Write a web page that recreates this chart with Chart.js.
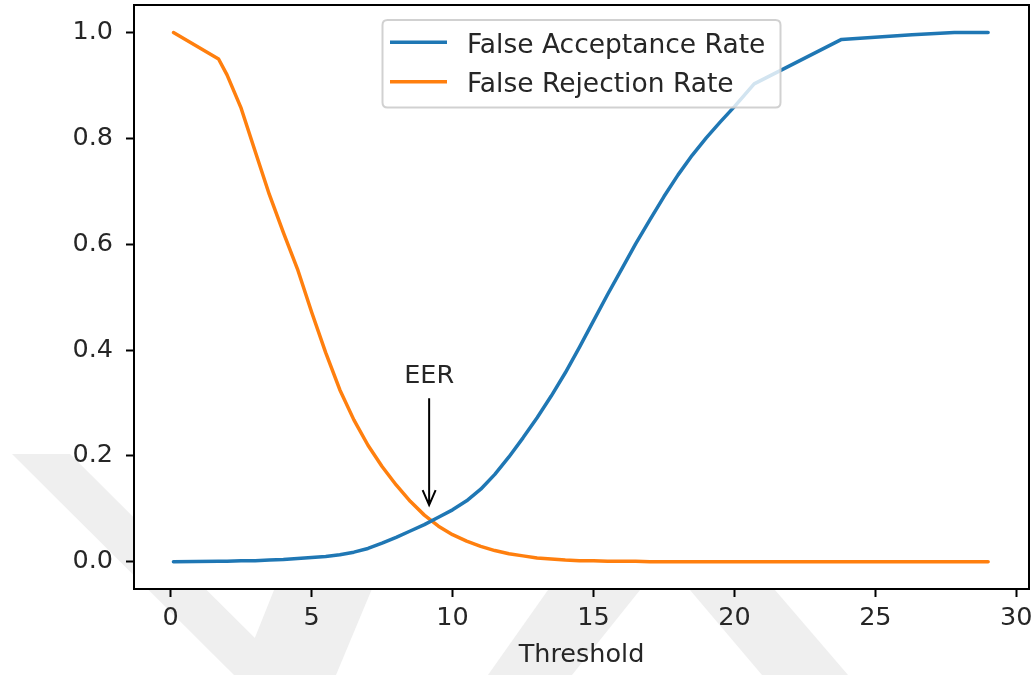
<!DOCTYPE html>
<html>
<head>
<meta charset="utf-8">
<script src="https://cdn.jsdelivr.net/npm/chart.js@4.4.1/dist/chart.umd.min.js"></script>
<style>
html,body{margin:0;padding:0;background:#fff;}
#wrap{width:1034px;height:675px;position:relative;}
</style>
</head>
<body>
<div id="wrap"><canvas id="c" width="1034" height="675"></canvas></div>
<script>
// ---- data ----
const thresholds = [0.1, 1.7, 2.0, 2.5, 3.0, 3.5, 4.0, 4.5, 5.0, 5.5, 6.0, 6.5, 7.0, 7.5, 8.0, 8.5, 9.0, 9.5, 10.0, 10.5, 11.0, 11.5, 12.0, 12.5, 13.0, 13.5, 14.0, 14.5, 15.0, 15.5, 16.0, 16.5, 17.0, 17.5, 18.0, 18.5, 19.0, 19.5, 20.0, 20.7, 23.8, 26.3, 27.8, 29.0];
const farValues = [0.000, 0.001, 0.001, 0.002, 0.002, 0.003, 0.004, 0.006, 0.008, 0.010, 0.013, 0.018, 0.025, 0.035, 0.046, 0.058, 0.070, 0.084, 0.098, 0.115, 0.137, 0.165, 0.198, 0.234, 0.272, 0.313, 0.357, 0.405, 0.455, 0.505, 0.553, 0.601, 0.646, 0.690, 0.731, 0.768, 0.801, 0.831, 0.860, 0.903, 0.987, 0.996, 1.000, 1.000];
const frrValues = [1.000, 0.950, 0.920, 0.857, 0.775, 0.694, 0.622, 0.553, 0.472, 0.395, 0.325, 0.268, 0.220, 0.180, 0.145, 0.114, 0.088, 0.067, 0.051, 0.039, 0.029, 0.021, 0.015, 0.011, 0.007, 0.005, 0.003, 0.002, 0.002, 0.001, 0.001, 0.001, 0.000, 0.000, 0.000, 0.000, 0.000, 0.000, 0.000, 0.000, 0.000, 0.000, 0.000, 0.000];
const seriesLabels = ['False Acceptance Rate', 'False Rejection Rate'];
const seriesColors = ['#1f77b4', '#ff7f0e'];
const xTickValues = [0, 5, 10, 15, 20, 25, 30];
const yTickValues = [0.0, 0.2, 0.4, 0.6, 0.8, 1.0];
const xAxisTitle = 'Threshold';
const eerLabel = 'EER';
const eerX = 9.17;        // arrow x (threshold)
const eerTipY = 0.107;    // arrow head
const eerTailY = 0.309;   // arrow tail
const eerTextY = 0.337;   // text baseline

const FONT = "'DejaVu Sans', 'Liberation Sans', sans-serif";
const TEXT_COLOR = '#262626';

// decorative background watermark (outside the axes only)
const watermarkPolys = [
  [[12,454],[70,454],[292,675],[234,675]],
  [[286,560],[384,560],[336,675],[240,675]],
  [[548,590],[640,590],[572,675],[488,675]],
  [[690,590],[775,590],[848,675],[762,675]]
];

const bgPlugin = {
  id: 'bg',
  beforeDraw(chart) {
    const {ctx, chartArea: a} = chart;
    ctx.save();
    ctx.fillStyle = '#fff';
    ctx.fillRect(0, 0, chart.width, chart.height);
    ctx.fillStyle = '#efefef';
    watermarkPolys.forEach(p => {
      ctx.beginPath();
      p.forEach((pt, i) => i ? ctx.lineTo(pt[0], pt[1]) : ctx.moveTo(pt[0], pt[1]));
      ctx.closePath();
      ctx.fill();
    });
    ctx.fillStyle = '#fff';
    ctx.fillRect(a.left, a.top, a.right - a.left, a.bottom - a.top);
    ctx.restore();
  }
};

const overlayPlugin = {
  id: 'overlay',
  afterDatasetsDraw(chart) {
    const {ctx, chartArea: a, scales: {x, y}} = chart;
    ctx.save();
    // annotation
    const px = x.getPixelForValue(eerX);
    const tipY = y.getPixelForValue(eerTipY);
    const tailY = y.getPixelForValue(eerTailY);
    ctx.strokeStyle = '#000';
    ctx.lineWidth = 2;
    ctx.beginPath();
    ctx.moveTo(px, tailY);
    ctx.lineTo(px, tipY);
    ctx.moveTo(px - 6.5, tipY - 15);
    ctx.lineTo(px, tipY);
    ctx.lineTo(px + 6.5, tipY - 15);
    ctx.stroke();
    ctx.fillStyle = TEXT_COLOR;
    ctx.font = "25.5px " + FONT;
    ctx.textAlign = 'center';
    ctx.textBaseline = 'alphabetic';
    ctx.fillText(eerLabel, px, y.getPixelForValue(eerTextY));

    // frame
    ctx.strokeStyle = '#000';
    ctx.lineWidth = 2;
    ctx.strokeRect(a.left, a.top, a.right - a.left, a.bottom - a.top);

    // legend
    const lx = 382.5, ly = 20, lw = 398, lh = 87.5, r = 5;
    ctx.beginPath();
    ctx.moveTo(lx + r, ly);
    ctx.lineTo(lx + lw - r, ly);
    ctx.quadraticCurveTo(lx + lw, ly, lx + lw, ly + r);
    ctx.lineTo(lx + lw, ly + lh - r);
    ctx.quadraticCurveTo(lx + lw, ly + lh, lx + lw - r, ly + lh);
    ctx.lineTo(lx + r, ly + lh);
    ctx.quadraticCurveTo(lx, ly + lh, lx, ly + lh - r);
    ctx.lineTo(lx, ly + r);
    ctx.quadraticCurveTo(lx, ly, lx + r, ly);
    ctx.closePath();
    ctx.fillStyle = 'rgba(255,255,255,0.8)';
    ctx.fill();
    ctx.strokeStyle = 'rgba(204,204,204,0.9)';
    ctx.lineWidth = 2;
    ctx.stroke();
    chart.data.datasets.forEach((ds, i) => {
      const rowY = 42.3 + i * 39.4;
      ctx.strokeStyle = ds.borderColor;
      ctx.lineWidth = 3.5;
      ctx.beginPath();
      ctx.moveTo(390, rowY);
      ctx.lineTo(447, rowY);
      ctx.stroke();
      ctx.fillStyle = TEXT_COLOR;
      ctx.font = "26.5px " + FONT;
      ctx.textAlign = 'left';
      ctx.textBaseline = 'alphabetic';
      ctx.fillText(ds.label, 467, rowY + 10.4);
    });
    ctx.restore();
  }
};

const mkData = vals => thresholds.map((t, i) => ({x: t, y: vals[i]}));

new Chart(document.getElementById('c'), {
  type: 'line',
  data: {
    datasets: [
      {label: seriesLabels[0], data: mkData(farValues), borderColor: seriesColors[0], backgroundColor: seriesColors[0], borderWidth: 3.5, pointRadius: 0, tension: 0, fill: false, borderJoinStyle: 'round', borderCapStyle: 'round'},
      {label: seriesLabels[1], data: mkData(frrValues), borderColor: seriesColors[1], backgroundColor: seriesColors[1], borderWidth: 3.5, pointRadius: 0, tension: 0, fill: false, borderJoinStyle: 'round', borderCapStyle: 'round'}
    ]
  },
  options: {
    responsive: false,
    animation: false,
    devicePixelRatio: 1,
    layout: {padding: {left: 0, top: 5, right: 5, bottom: 0}},
    plugins: {legend: {display: false}, tooltip: {enabled: false}},
    scales: {
      x: {
        type: 'linear',
        min: -1.3,
        max: 30.45,
        afterBuildTicks: s => { s.ticks = xTickValues.map(v => ({value: v})); },
        afterFit: s => { s.height = 86; s.paddingLeft = 0; s.paddingRight = 0; },
        ticks: {font: {family: FONT, size: 25.5}, color: TEXT_COLOR, padding: 6, maxRotation: 0, autoSkip: false, callback: v => String(v)},
        grid: {drawOnChartArea: false, drawTicks: true, tickLength: 8, tickWidth: 2, tickColor: '#000'},
        border: {display: false},
        title: {display: true, text: xAxisTitle, font: {family: FONT, size: 25.5}, color: TEXT_COLOR, padding: {top: 0, bottom: 4}}
      },
      y: {
        type: 'linear',
        min: -0.0516,
        max: 1.052,
        afterBuildTicks: s => { s.ticks = yTickValues.map(v => ({value: v})); },
        afterFit: s => { s.width = 134; s.paddingTop = 0; s.paddingBottom = 0; },
        ticks: {font: {family: FONT, size: 25.5}, color: TEXT_COLOR, padding: 13, autoSkip: false, callback: v => Number(v).toFixed(1)},
        grid: {drawOnChartArea: false, drawTicks: true, tickLength: 8, tickWidth: 2, tickColor: '#000'},
        border: {display: false}
      }
    }
  },
  plugins: [bgPlugin, overlayPlugin]
});
</script>
</body>
</html>
